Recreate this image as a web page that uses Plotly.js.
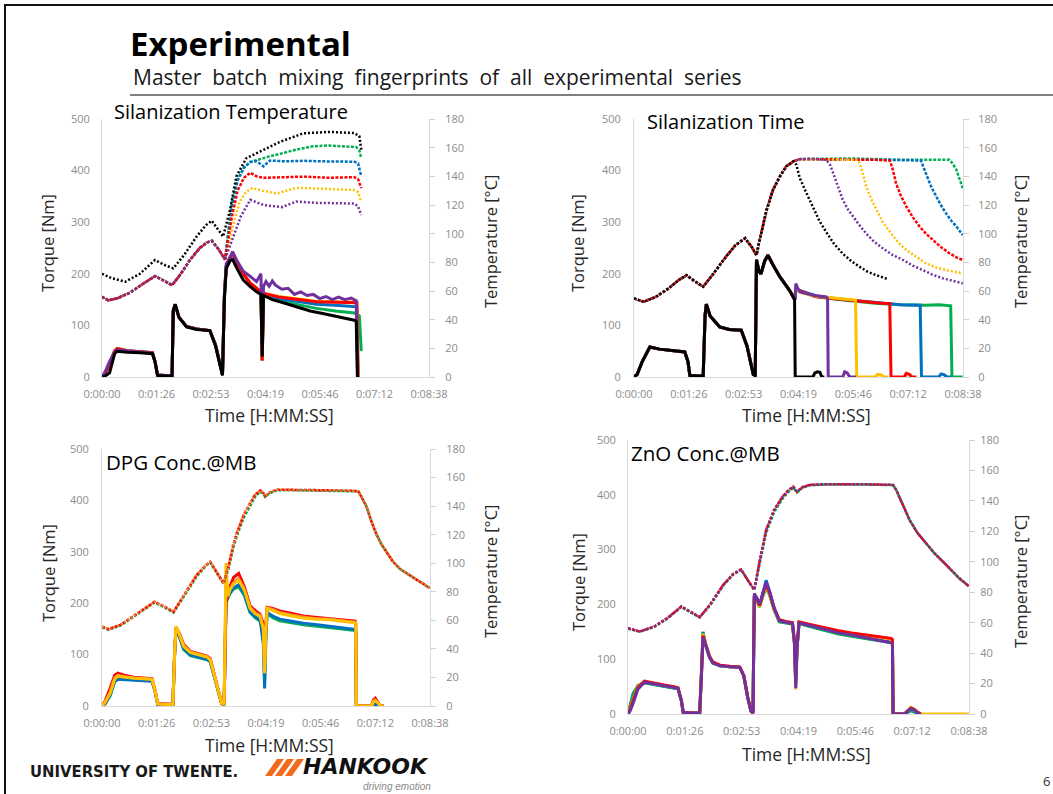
<!DOCTYPE html>
<html>
<head>
<meta charset="utf-8">
<script src="https://cdn.plot.ly/plotly-3.0.1.min.js"></script>
<style>html,body{margin:0;padding:0;background:#fff;}#chart{width:1053px;height:794px;}</style>
</head>
<body>
<div id="chart"></div>
<script>
// ---------- axis ticks ----------
const timeTickVals = [0, 86.4, 172.8, 259.2, 345.6, 432, 518.4];
const timeTickText = ['0:00:00', '0:01:26', '0:02:53', '0:04:19', '0:05:46', '0:07:12', '0:08:38'];
const torqueTicks = [0, 100, 200, 300, 400, 500];
const tempTicks = [0, 20, 40, 60, 80, 100, 120, 140, 160, 180];

// ---------- Chart 1: Silanization Temperature ----------
const c1TempHeadT = [0, 10, 25, 45, 65, 84, 97, 111, 125, 140, 155, 167, 174, 185, 195];
const c1TempHeadV = [56, 53.5, 55, 59, 65, 70.4, 67.5, 64, 72, 82, 90, 94, 95, 89, 82];
const c1TempGreenT = [200, 206, 215, 225, 235, 250, 266, 285, 308, 335, 360, 380, 403, 408, 411];
const c1TempGreenV = [100, 123, 138, 146, 150, 152, 154, 156, 158.6, 161, 161.5, 161, 160.4, 158, 152.7];
const c1TempBlueT = [200, 206, 215, 225, 235, 245, 256, 266, 290, 320, 360, 400, 406, 411];
const c1TempBlueV = [98, 119, 137, 146, 150, 150.5, 147, 151, 150.5, 150.8, 150.4, 150.2, 149, 140];
const c1TempRedT = [200, 206, 215, 225, 235, 245, 256, 280, 320, 360, 400, 406, 411];
const c1TempRedV = [95, 112, 130, 139, 142.5, 140, 139, 139.2, 139.8, 139, 139.4, 138, 131.8];
const c1TempYellowT = [200, 208, 218, 228, 238, 255, 277, 308, 340, 370, 400, 406, 411];
const c1TempYellowV = [90, 106, 122, 129, 131.8, 130, 128, 132, 131.5, 131, 130.5, 129, 122];
const c1TempPurpleT = [200, 210, 220, 235, 256, 285, 308, 340, 370, 400, 406, 411];
const c1TempPurpleV = [88, 100, 112, 123.6, 120, 118.5, 122.4, 121.5, 121, 121, 119, 113];
const c1TempBlackT = [0, 15, 37, 60, 84, 100, 113, 130, 150, 165, 174, 184, 192, 203, 213, 229, 256, 282, 319, 361, 400, 408, 411];
const c1TempBlackV = [72, 69, 66.5, 72, 81.6, 78, 75.8, 85, 98, 106, 109, 103, 98, 116.6, 140, 152.7, 158.6, 164, 170, 171, 170.2, 168, 158.6];

const c1TqHeadT = [0, 5, 12, 20, 24, 40, 60, 80, 84, 88, 100, 111, 113, 116, 122, 134, 150, 165, 171, 180, 188, 191, 194, 197, 203, 207, 214, 224, 235, 245, 252, 254, 256];
const c1TqBlackHeadV = [0, 2, 8, 45, 50, 48, 47, 45, 30, 3, 2, 2, 130, 141, 115, 97, 92, 90, 90, 60, 15, 3, 150, 210, 225, 228, 210, 188, 175, 165, 160, 40, 158];
const c1TqPurpleHeadV = [0, 10, 30, 48, 52, 50, 48, 46, 30, 4, 3, 3, 128, 140, 116, 98, 93, 91, 90, 62, 18, 4, 160, 220, 230, 243, 225, 205, 195, 185, 200, 60, 175];
const c1TqColHeadV = [0, 6, 25, 50, 55, 51, 49, 47, 30, 4, 3, 3, 128, 140, 116, 98, 93, 91, 90, 62, 18, 4, 155, 215, 232, 240, 222, 200, 182, 172, 165, 32, 162];
const c1TqBlackTailT = [270, 290, 310, 330, 350, 370, 390, 400, 403, 405];
const c1TqBlackTailV = [150, 143, 135, 128, 123, 118, 113, 110, 108, 0];
const c1TqPurpleTailT = [260, 265, 270, 275, 285, 295, 305, 315, 325, 335, 345, 355, 365, 375, 385, 395, 403, 405];
const c1TqPurpleTailV = [185, 176, 186, 178, 170, 172, 160, 165, 158, 160, 152, 156, 150, 155, 150, 153, 148, 0];
const c1TqRedTailT = [280, 310, 340, 370, 400, 404, 406];
const c1TqRedTailV = [155, 150, 146, 145, 144, 144, 0];
const c1TqYellowTailT = [280, 310, 340, 370, 400, 404, 406];
const c1TqYellowTailV = [156, 151, 147, 146, 145, 145, 0];
const c1TqGreenTailT = [280, 310, 340, 370, 400, 406, 408, 411];
const c1TqGreenTailV = [148, 140, 133, 128, 124, 120, 118, 50];
const c1TqBlueTailT = [280, 310, 340, 370, 400, 404, 406];
const c1TqBlueTailV = [152, 146, 141, 139, 137, 136, 0];

// ---------- Chart 2: Silanization Time ----------
const c2TempHeadT = [0, 15, 35, 55, 70, 83, 95, 109, 125, 145, 160, 175, 185, 193, 198, 209, 219, 230, 240, 251];
const c2TempHeadV = [54.8, 52.5, 56, 62, 67.5, 71, 67, 63, 72, 84, 92, 96.8, 91, 85, 95.6, 116.6, 130.6, 140, 147, 150.4];
const c2TempBlackT = [256, 261, 270, 282, 292, 303, 315, 329, 342, 355, 368, 382, 400];
const c2TempBlackV = [148, 139, 130, 118, 109, 101, 93, 86, 81, 77, 73.5, 71, 68.3];
const c2TempPurpleT = [261, 280, 303, 309, 314, 320, 329, 337, 345, 355, 366, 378, 392, 408, 424, 440, 455, 470, 487, 503, 518];
const c2TempPurpleV = [152, 152.5, 151.5, 148, 142, 134, 123.6, 117, 112, 106, 100, 94.5, 89.8, 85, 81.6, 77.5, 74.6, 71.5, 68.8, 67, 65.3];
const c2TempYellowT = [261, 300, 353, 358, 366, 374, 382, 392, 403, 416, 429, 445, 460, 476, 492, 518];
const c2TempYellowV = [152, 152, 151.5, 146, 133, 124, 116.6, 108, 101.4, 94, 88.6, 83.5, 79.3, 76.5, 74.6, 72.3];
const c2TempRedT = [261, 320, 380, 403, 407, 413, 420, 429, 440, 450, 460, 471, 484, 497, 508, 518];
const c2TempRedV = [152, 152, 151.5, 151, 146, 135, 127, 119, 111, 105, 100, 95.6, 90.5, 86.3, 83.5, 81.6];
const c2TempBlueT = [261, 330, 400, 452, 456, 460, 468, 476, 484, 492, 500, 508, 518];
const c2TempBlueV = [152, 152, 151.5, 151, 147, 142, 133, 126, 119.5, 114, 109, 105, 99];
const c2TempGreenT = [261, 340, 420, 497, 502, 508, 513, 518];
const c2TempGreenV = [152, 152.5, 151.5, 151.5, 149, 144.6, 138, 131.8];

const c2TqHeadT = [0, 5, 13, 22, 25, 40, 60, 80, 85, 88, 100, 109, 112, 114, 120, 135, 150, 169, 178, 188, 191, 193, 197, 200, 206, 211, 220, 230, 245, 251, 253];
const c2TqHeadV = [0, 5, 30, 52, 58, 54, 51, 48.6, 30, 3, 2, 2, 120, 141, 118, 97, 92, 90.7, 60, 5, 3, 227, 205, 200, 225, 236, 215, 194, 168, 155, 150];
const c2TqBlackTailT = [254, 282, 285, 289, 293, 296, 300];
const c2TqBlackTailV = [0, 0, 8, 10, 9, 0, 0];
const c2TqPurpleTailT = [254, 255, 258, 262, 270, 285, 303, 305, 306, 329, 332, 336, 340, 350];
const c2TqPurpleTailV = [150, 181, 172, 165, 162, 158, 155, 152, 0, 0, 10, 8, 0, 0];
const c2TqYellowTailT = [255, 262, 285, 310, 330, 349, 351, 380, 384, 390, 394, 400];
const c2TqYellowTailV = [172, 164, 157, 153, 151, 149, 0, 0, 5, 4, 0, 0];
const c2TqRedTailT = [255, 285, 320, 360, 390, 403, 405, 426, 429, 434, 438, 445];
const c2TqRedTailV = [170, 156, 151, 146, 143, 142.5, 0, 0, 7, 5, 0, 0];
const c2TqBlueTailT = [255, 290, 330, 380, 420, 451, 453, 480, 484, 489, 493, 500];
const c2TqBlueTailV = [170, 156, 150, 144, 140, 139, 0, 0, 6, 4, 0, 0];
const c2TqGreenTailT = [255, 290, 330, 380, 420, 460, 480, 499, 501, 518];
const c2TqGreenTailV = [168, 155, 149, 143, 140, 139, 140, 138, 0, 0];

// ---------- Chart 3: DPG Conc.@MB ----------
const c3TempT = [0, 10.5, 30, 50, 70, 83, 97, 113, 130, 150, 165, 171, 181, 192, 200, 207, 213, 224, 234, 242, 250, 254, 258, 265, 276, 300, 340, 380, 405, 412, 418, 426, 434, 442, 450, 460, 471, 484, 497, 508, 518];
const c3TempV = [55.6, 53.8, 57, 63, 69, 73, 70, 66, 78, 92, 99, 101, 94, 86, 98, 112, 121, 134, 142, 148, 151, 150, 147, 149.5, 151.5, 151.5, 151, 151, 150.5, 145, 139.8, 129, 120, 113, 108, 101, 96, 92, 88.5, 85.5, 82.5];
const c3TempGreenV = [55.2, 53.5, 56.5, 62.5, 68.5, 72.5, 69.5, 65.5, 77, 91, 98.5, 100.5, 93.5, 85.5, 96, 110, 119, 132, 140, 146.5, 150, 149, 146.5, 149, 151, 151.2, 150.8, 150.8, 150.3, 145, 139.5, 129, 120, 113, 108, 101, 96, 92, 88.5, 85.5, 82.5];

const c3TqT = [0, 5, 13, 20, 25, 35, 50, 65, 79, 84, 88, 100, 112, 115, 117, 122, 129, 140, 155, 166, 171, 180, 189, 193, 196, 199, 202, 208, 216, 225, 234, 242, 250, 255, 257, 259, 261, 270, 281, 300, 318, 340, 360, 380, 400, 401, 402, 426, 429, 432, 436, 440, 445];
const c3TqYellowV = [0, 8, 25, 52, 58, 56, 54, 53, 52, 30, 4, 3, 3, 110, 155, 140, 116, 104, 98, 95, 90, 50, 6, 3, 278, 215, 225, 238, 245, 225, 190, 180, 174, 150, 64, 150, 190, 186, 180, 175, 171, 169, 168, 165, 162, 160, 0, 0, 8, 10, 6, 0, 0];
const c3TqOrangeV = [0, 7, 28, 55, 60, 57, 55, 54, 52, 30, 4, 3, 3, 112, 154, 141, 118, 105, 99, 96, 91, 50, 6, 3, 240, 212, 228, 240, 248, 228, 192, 182, 176, 150, 70, 152, 191, 188, 182, 177, 173, 170, 169, 166, 163, 160, 0, 0, 10, 12, 7, 0, 0];
const c3TqRedV = [0, 10, 35, 60, 64, 60, 56, 55, 53, 30, 5, 4, 4, 110, 152, 142, 120, 106, 100, 97, 92, 50, 6, 3, 200, 220, 232, 250, 258, 232, 195, 186, 178, 160, 90, 160, 192, 190, 185, 180, 175, 172, 170, 168, 165, 160, 0, 0, 12, 15, 8, 0, 0];
const c3TqGreenV = [0, 5, 20, 48, 53, 52, 51, 50, 49, 28, 3, 2, 2, 105, 150, 135, 110, 98, 93, 90, 86, 45, 5, 2, 200, 210, 218, 228, 232, 215, 182, 172, 165, 140, 50, 140, 180, 172, 166, 162, 158, 155, 153, 150, 147, 145, 0, 0, 3, 4, 2, 0, 0];
const c3TqBlueV = [0, 4, 22, 47, 52, 51, 50, 49, 48, 28, 3, 2, 2, 108, 150, 136, 112, 99, 94, 91, 87, 46, 5, 2, 205, 212, 220, 230, 236, 218, 184, 174, 167, 120, 34, 130, 182, 175, 169, 165, 161, 158, 155, 152, 149, 147, 0, 0, 2, 3, 1, 0, 0];

// ---------- Chart 4: ZnO Conc.@MB ----------
const c4TempT = [0, 18, 40, 60, 81, 95, 109, 125, 145, 160, 172, 182, 192, 200, 210, 222, 235, 244, 251, 257, 265, 276, 300, 350, 403, 408, 418, 428, 440, 453, 466, 479, 492, 504, 518];
const c4TempV = [56.4, 54.2, 57.5, 63, 70.6, 67, 63.6, 72, 85, 92, 95, 88, 81.6, 100, 121, 134, 142.8, 147, 149.4, 146, 149, 150.5, 151, 151, 150.5, 147, 137, 127.5, 119, 112, 105.5, 100, 94, 89, 84];
const c4TempGreenV = [56, 54, 57.2, 62.8, 70.3, 66.8, 63.4, 71.5, 84.5, 91.6, 94.7, 87.8, 81.4, 98.5, 119, 132.5, 141.5, 146, 148.6, 145.5, 148.5, 150.2, 150.8, 150.8, 150.4, 147, 137, 127.5, 119, 112, 105.5, 100, 94, 89, 84];

const c4TqT = [0, 3, 8, 15, 25, 40, 55, 70, 76, 81, 84, 95, 109, 112, 114, 118, 124, 129, 140, 155, 170, 176, 182, 187, 190, 192, 196, 200, 205, 210, 215, 222, 230, 240, 250, 253, 255, 257, 260, 275, 290, 301, 320, 340, 352, 370, 385, 400, 402, 403, 420, 425, 430, 435, 440, 445];
const c4TqPurpleV = [0, 5, 20, 45, 58, 55, 52, 49, 47, 25, 3, 2, 2, 80, 140, 125, 103, 93, 88, 86, 85, 70, 30, 5, 2, 220, 212, 200, 222, 240, 225, 195, 170, 167, 165, 130, 47, 120, 166, 162, 157, 153, 148, 144, 141, 137, 134, 130, 128, 0, 0, 5, 10, 8, 3, 0];
const c4TqRedV = [0, 8, 25, 48, 60, 56, 53, 50, 48, 25, 3, 2, 2, 85, 143, 127, 105, 95, 89, 87, 86, 70, 30, 5, 2, 215, 210, 198, 220, 236, 222, 193, 172, 169, 167, 135, 60, 125, 168, 164, 160, 156, 152, 148, 146, 143, 140, 138, 136, 0, 0, 6, 11, 8, 3, 0];
const c4TqYellowV = [0, 10, 30, 50, 59, 55, 52, 49, 47, 25, 3, 2, 2, 82, 146, 128, 106, 94, 88, 86, 85, 70, 30, 5, 2, 212, 208, 196, 218, 232, 220, 192, 170, 168, 166, 130, 45, 122, 167, 163, 159, 155, 151, 147, 145, 142, 139, 137, 135, 0, 0, 6, 12, 9, 4, 0];
const c4TqGreenV = [0, 12, 35, 52, 57, 54, 51, 48, 46, 25, 3, 2, 2, 82, 148, 127, 104, 93, 88, 86, 85, 70, 30, 5, 2, 210, 205, 195, 215, 230, 218, 190, 168, 166, 164, 128, 55, 120, 165, 160, 155, 151, 146, 142, 140, 136, 133, 130, 128, 0, 0, 4, 7, 5, 2, 0];
const c4TqBlueV = [0, 15, 38, 50, 57, 54, 51, 48, 46, 25, 3, 2, 2, 84, 150, 128, 104, 93, 88, 86, 85, 70, 30, 5, 2, 214, 208, 197, 222, 244, 224, 192, 169, 167, 165, 130, 58, 122, 166, 161, 156, 152, 147, 143, 141, 137, 134, 131, 129, 0, 0, 3, 6, 4, 1, 0];
const c4YellowZeroT = [445, 518];
const c4YellowZeroV = [0, 0];

// ---------- styling ----------
const COL = {black: '#000000', purple: '#7030A0', green: '#00B050', blue: '#0070C0', red: '#FF0000', yellow: '#FFC000', orange: '#ED7D31'};
const W = 1053, H = 794;
const px = x => x / W;
const py = y => 1 - y / H;
const FONT = 'Open Sans, Noto Sans, sans-serif';

function tq(x, y, xa, ya, color) {
  return {type: 'scatter', mode: 'lines', x: x, y: y, xaxis: xa, yaxis: ya,
    line: {color: color, width: 3}, hoverinfo: 'skip', showlegend: false};
}
function tp(x, y, xa, ya, color, dash) {
  return {type: 'scatter', mode: 'lines', x: x, y: y, xaxis: xa, yaxis: ya,
    line: {color: color, width: 2.5, dash: dash || '3px,1.5px'}, hoverinfo: 'skip', showlegend: false};
}
const DOT = '2px,2px';

const traces = [];
// Chart 1 torque
traces.push(tq(c1TqHeadT.concat(c1TqGreenTailT), c1TqColHeadV.concat(c1TqGreenTailV), 'x', 'y', COL.green));
traces.push(tq(c1TqHeadT.concat(c1TqBlueTailT), c1TqColHeadV.concat(c1TqBlueTailV), 'x', 'y', COL.blue));
traces.push(tq(c1TqHeadT.concat(c1TqYellowTailT), c1TqColHeadV.concat(c1TqYellowTailV), 'x', 'y', COL.yellow));
traces.push(tq(c1TqHeadT.concat(c1TqRedTailT), c1TqColHeadV.concat(c1TqRedTailV), 'x', 'y', COL.red));
traces.push(tq(c1TqHeadT.concat(c1TqPurpleTailT), c1TqPurpleHeadV.concat(c1TqPurpleTailV), 'x', 'y', COL.purple));
traces.push(tq(c1TqHeadT.concat(c1TqBlackTailT), c1TqBlackHeadV.concat(c1TqBlackTailV), 'x', 'y', COL.black));
// Chart 1 temperature
traces.push(tp(c1TempHeadT.concat(c1TempGreenT), c1TempHeadV.concat(c1TempGreenV), 'x', 'y2', COL.green));
traces.push(tp(c1TempHeadT.concat(c1TempBlueT), c1TempHeadV.concat(c1TempBlueV), 'x', 'y2', COL.blue));
traces.push(tp(c1TempHeadT.concat(c1TempYellowT), c1TempHeadV.concat(c1TempYellowV), 'x', 'y2', COL.yellow, DOT));
traces.push(tp(c1TempHeadT.concat(c1TempRedT), c1TempHeadV.concat(c1TempRedV), 'x', 'y2', COL.red));
traces.push(tp(c1TempHeadT.concat(c1TempPurpleT), c1TempHeadV.concat(c1TempPurpleV), 'x', 'y2', COL.purple, DOT));
traces.push(tp(c1TempBlackT, c1TempBlackV, 'x', 'y2', COL.black, DOT));

// Chart 2 torque
traces.push(tq(c2TqHeadT.concat(c2TqGreenTailT), c2TqHeadV.concat(c2TqGreenTailV), 'x2', 'y3', COL.green));
traces.push(tq(c2TqHeadT.concat(c2TqBlueTailT), c2TqHeadV.concat(c2TqBlueTailV), 'x2', 'y3', COL.blue));
traces.push(tq(c2TqHeadT.concat(c2TqRedTailT), c2TqHeadV.concat(c2TqRedTailV), 'x2', 'y3', COL.red));
traces.push(tq(c2TqHeadT.concat(c2TqYellowTailT), c2TqHeadV.concat(c2TqYellowTailV), 'x2', 'y3', COL.yellow));
traces.push(tq(c2TqHeadT.concat(c2TqPurpleTailT), c2TqHeadV.concat(c2TqPurpleTailV), 'x2', 'y3', COL.purple));
traces.push(tq(c2TqHeadT.concat(c2TqBlackTailT), c2TqHeadV.concat(c2TqBlackTailV), 'x2', 'y3', COL.black));
// Chart 2 temperature
traces.push(tp(c2TempHeadT.concat(c2TempGreenT), c2TempHeadV.concat(c2TempGreenV), 'x2', 'y4', COL.green));
traces.push(tp(c2TempHeadT.concat(c2TempBlueT), c2TempHeadV.concat(c2TempBlueV), 'x2', 'y4', COL.blue));
traces.push(tp(c2TempHeadT.concat(c2TempRedT), c2TempHeadV.concat(c2TempRedV), 'x2', 'y4', COL.red));
traces.push(tp(c2TempHeadT.concat(c2TempYellowT), c2TempHeadV.concat(c2TempYellowV), 'x2', 'y4', COL.yellow, DOT));
traces.push(tp(c2TempHeadT.concat(c2TempPurpleT), c2TempHeadV.concat(c2TempPurpleV), 'x2', 'y4', COL.purple, DOT));
traces.push(tp(c2TempHeadT.concat(c2TempBlackT), c2TempHeadV.concat(c2TempBlackV), 'x2', 'y4', COL.black, DOT));

// Chart 3 torque
traces.push(tq(c3TqT, c3TqGreenV, 'x3', 'y5', COL.green));
traces.push(tq(c3TqT, c3TqBlueV, 'x3', 'y5', COL.blue));
traces.push(tq(c3TqT, c3TqRedV, 'x3', 'y5', COL.red));
traces.push(tq(c3TqT, c3TqOrangeV, 'x3', 'y5', COL.orange));
traces.push(tq(c3TqT, c3TqYellowV, 'x3', 'y5', COL.yellow));
// Chart 3 temperature
traces.push(tp(c3TempT, c3TempGreenV, 'x3', 'y6', COL.green));
traces.push(tp(c3TempT, c3TempV, 'x3', 'y6', COL.red));
traces.push(tp(c3TempT, c3TempV, 'x3', 'y6', COL.orange, DOT));

// Chart 4 torque
traces.push(tq(c4TqT, c4TqBlueV, 'x4', 'y7', COL.blue));
traces.push(tq(c4TqT, c4TqGreenV, 'x4', 'y7', COL.green));
traces.push(tq(c4YellowZeroT, c4YellowZeroV, 'x4', 'y7', COL.yellow));
traces.push(tq(c4TqT, c4TqYellowV, 'x4', 'y7', COL.yellow));
traces.push(tq(c4TqT, c4TqRedV, 'x4', 'y7', COL.red));
traces.push(tq(c4TqT, c4TqPurpleV, 'x4', 'y7', COL.purple));
// Chart 4 temperature
traces.push(tp(c4TempT, c4TempGreenV, 'x4', 'y8', COL.green));
traces.push(tp(c4TempT, c4TempV, 'x4', 'y8', COL.red));
traces.push(tp(c4TempT, c4TempV, 'x4', 'y8', COL.purple, DOT));

// ---------- layout ----------
const boxes = [
  {x0: 102, x1: 429, y0: 119, y1: 377, lsd: 9, rsd: 8, xsd: 7},
  {x0: 634, x1: 963, y0: 119, y1: 377, lsd: 10, rsd: 7, xsd: 7},
  {x0: 102, x1: 430, y0: 449, y1: 706, lsd: 10, rsd: 8, xsd: 7},
  {x0: 628, x1: 969, y0: 440, y1: 714, lsd: 9, rsd: 3, xsd: 7}
];
const tickFont = {family: FONT, size: 11, color: '#8c8c8c'};
const layout = {
  width: W, height: H, margin: {l: 0, r: 0, t: 0, b: 0},
  paper_bgcolor: '#ffffff', plot_bgcolor: 'rgba(0,0,0,0)',
  showlegend: false, font: {family: FONT},
  annotations: [], shapes: []
};
boxes.forEach((b, i) => {
  const n = i + 1;
  const xk = n === 1 ? 'xaxis' : 'xaxis' + n;
  const yl = 2 * n - 1, yr = 2 * n;
  const ylk = yl === 1 ? 'yaxis' : 'yaxis' + yl;
  const yrk = 'yaxis' + yr;
  const ylRef = yl === 1 ? 'y' : 'y' + yl;
  layout[xk] = {
    domain: [px(b.x0), px(b.x1)], range: [0, 518.4], anchor: ylRef,
    tickmode: 'array', tickvals: timeTickVals, ticktext: timeTickText,
    showline: true, linecolor: '#d9d9d9', linewidth: 1, ticks: '',
    showgrid: false, zeroline: false, tickfont: tickFont, ticklabelstandoff: b.xsd, fixedrange: true
  };
  layout[ylk] = {
    domain: [py(b.y1), py(b.y0)], range: [0, 500], anchor: n === 1 ? 'x' : 'x' + n,
    tickmode: 'array', tickvals: torqueTicks,
    showline: true, linecolor: '#d9d9d9', linewidth: 1, ticks: '',
    showgrid: false, zeroline: false, tickfont: tickFont, ticklabelstandoff: b.lsd, fixedrange: true
  };
  layout[yrk] = {
    overlaying: ylRef, side: 'right', range: [0, 180], anchor: n === 1 ? 'x' : 'x' + n,
    tickmode: 'array', tickvals: tempTicks,
    showline: true, linecolor: '#d9d9d9', linewidth: 1, ticks: 'outside', ticklen: 5, tickcolor: '#d0d0d0',
    showgrid: false, zeroline: false, tickfont: tickFont, ticklabelstandoff: b.rsd, fixedrange: true
  };
});

function ann(text, x, y, opts) {
  return Object.assign({text: text, x: px(x), y: py(y), xref: 'paper', yref: 'paper',
    showarrow: false, xanchor: 'center', yanchor: 'middle',
    font: {family: FONT, size: 16.5, color: '#262626'}}, opts || {});
}
const A = layout.annotations;
const SP = '\u00A0 ';
// slide header
A.push(ann('Experimental', 128, 43, {xanchor: 'left', font: {family: FONT, size: 33, color: '#000', weight: 700}}));
A.push(ann(['Master', 'batch', 'mixing', 'fingerprints', 'of', 'all', 'experimental', 'series'].join(SP), 131, 77, {xanchor: 'left', font: {family: FONT, size: 21, color: '#1a1a1a'}}));
// chart titles
A.push(ann('Silanization Temperature', 112, 112, {xanchor: 'left', font: {family: FONT, size: 20, color: '#000'}}));
A.push(ann('Silanization Time', 645, 121, {xanchor: 'left', font: {family: FONT, size: 20, color: '#000'}}));
A.push(ann('DPG Conc.@MB', 104, 462, {xanchor: 'left', font: {family: FONT, size: 20.5, color: '#000'}}));
A.push(ann('ZnO Conc.@MB', 629, 453, {xanchor: 'left', font: {family: FONT, size: 20.5, color: '#000'}}));
// axis titles
const axTitles = [
  {tx: 269, ty: 415, lx: 48, ly: 243, rx: 490, ry: 242},
  {tx: 806, ty: 415, lx: 578, ly: 243, rx: 1020, ry: 242},
  {tx: 269, ty: 745, lx: 48, ly: 573, rx: 490, ry: 572},
  {tx: 806, ty: 754, lx: 578, ly: 582, rx: 1020, ry: 582}
];
axTitles.forEach(a => {
  A.push(ann('Time [H:MM:SS]', a.tx, a.ty, {font: {family: FONT, size: 17.5, color: '#262626'}}));
  A.push(ann('Torque [Nm]', a.lx, a.ly, {textangle: -90}));
  A.push(ann('Temperature [°C]', a.rx, a.ry, {textangle: -90}));
});
// footer
A.push(ann('UNIVERSITY OF TWENTE.', 28, 771, {xanchor: 'left', font: {family: 'Liberation Sans Narrow, DejaVu Sans Condensed, sans-serif', size: 16.5, color: '#1a1a1a', weight: 700}}));
A.push(ann('HANKOOK', 301, 766, {xanchor: 'left', font: {family: 'DejaVu Sans, sans-serif', size: 22, color: '#111', weight: 700, style: 'italic'}}));
A.push(ann('driving emotion', 433, 786, {xanchor: 'right', font: {family: 'Liberation Sans, Arial, sans-serif', size: 10, color: '#8a8a8a', style: 'italic'}}));
A.push(ann('6', 1046, 781, {font: {family: FONT, size: 13, color: '#333'}}));

// decorative shapes
const S = layout.shapes;
S.push({type: 'line', xref: 'paper', yref: 'paper', x0: px(4), x1: 1, y0: py(5), y1: py(5), line: {color: '#111', width: 2}});
S.push({type: 'line', xref: 'paper', yref: 'paper', x0: px(5), x1: px(5), y0: py(4), y1: 0, line: {color: '#111', width: 2}});
S.push({type: 'line', xref: 'paper', yref: 'paper', x0: px(130), x1: 1, y0: py(95), y1: py(95), line: {color: '#808080', width: 2}});
// Hankook orange swoosh
function para(xb, w, dx) {
  const yb = 776, yt = 759;
  return 'M ' + px(xb) + ' ' + py(yb) + ' L ' + px(xb + w) + ' ' + py(yb) + ' L ' + px(xb + w + dx) + ' ' + py(yt) + ' L ' + px(xb + dx) + ' ' + py(yt) + ' Z';
}
[[265, 7, 12], [275, 7, 12], [285, 7, 12]].forEach(p => {
  S.push({type: 'path', xref: 'paper', yref: 'paper', path: para(p[0], p[1], p[2]), fillcolor: '#F26B1D', line: {width: 0}});
});

Plotly.newPlot('chart', traces, layout, {staticPlot: true, displayModeBar: false});
</script>
</body>
</html>
